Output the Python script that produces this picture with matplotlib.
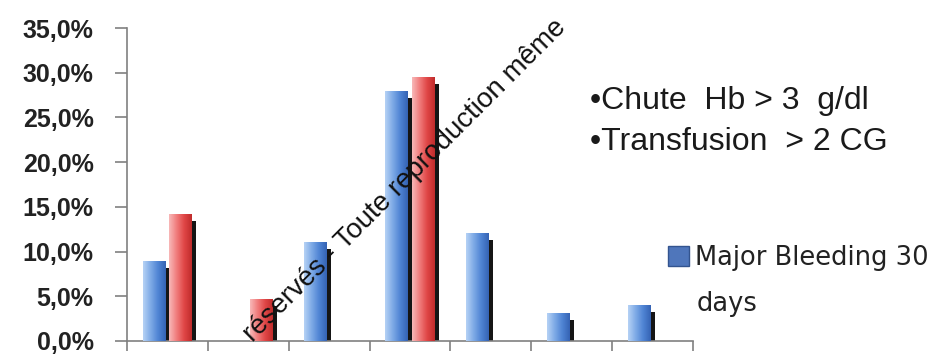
import numpy as np
import matplotlib
matplotlib.use("Agg")
import matplotlib.pyplot as plt
from matplotlib.patches import Patch
from matplotlib.ticker import FuncFormatter
from matplotlib.colors import LinearSegmentedColormap

# ---- data ----
categories = ["1", "2", "3", "4", "5", "6", "7"]
blue_values = [0.090, 0.0, 0.111, 0.280, 0.121, 0.031, 0.040]
red_values = [0.142, 0.047, 0.0, 0.295, 0.0, 0.0, 0.0]
yticks = [0.0, 0.05, 0.10, 0.15, 0.20, 0.25, 0.30, 0.35]
legend_label = "Major Bleeding 30"
legend_label2 = "days"
note_lines = ["•Chute  Hb > 3  g/dl", "•Transfusion  > 2 CG"]
watermark = "réservés - Toute reproduction même"

plt.rcParams['font.family'] = ['Liberation Sans', 'DejaVu Sans']

fig = plt.figure(figsize=(9.4, 3.55), dpi=100)
ax = fig.add_axes([127/940, 1-341/355, (693-127)/940, (341-28)/355])

x = np.arange(len(categories))
w = 0.28
off = 0.165

blue_cmap = LinearSegmentedColormap.from_list("b", ["#b6d2f5", "#7eaae6", "#4f84d4", "#3563b4"])
red_cmap = LinearSegmentedColormap.from_list("r", ["#f8b8b8", "#f07c7c", "#e04646", "#c02c2c"])
grad = np.linspace(0, 1, 64).reshape(1, -1)

def draw(vals, pos, cmap):
    # shadow
    ax.bar(pos + 0.05, [max(v - 0.008, 0) for v in vals], width=w, color="#151515", zorder=2)
    bars = ax.bar(pos, vals, width=w, color="none", zorder=3)
    for b in bars:
        if b.get_height() <= 0:
            continue
        x0, y0 = b.get_x(), b.get_y()
        im = ax.imshow(grad, cmap=cmap, aspect="auto", zorder=3,
                       extent=[x0, x0 + b.get_width(), y0, y0 + b.get_height()],
                       interpolation="bicubic")
        im.set_clip_path(b)
    return bars

draw(blue_values, x - off, blue_cmap)
draw(red_values, x + off, red_cmap)

ax.set_xlim(-0.5, len(categories) - 0.5)
ax.set_ylim(0, 0.35)
ax.set_yticks(yticks)
ax.yaxis.set_major_formatter(FuncFormatter(lambda v, p: f"{v*100:.1f}%".replace(".", ",")))
ax.tick_params(axis="y", labelsize=18, length=9, width=1.2, color="#808080", pad=15, labelcolor="#222222")
ax.set_xticks(np.arange(len(categories) + 1) - 0.5)
ax.set_xticklabels([])
ax.tick_params(axis="x", length=7, width=1.2, color="#808080", direction="out")
for s in ["top", "right"]:
    ax.spines[s].set_visible(False)
for s in ["left", "bottom"]:
    ax.spines[s].set_color("#808080")
    ax.spines[s].set_linewidth(1.2)
for lab in ax.get_yticklabels():
    lab.set_fontweight("bold")

# notes
fig.text(590/940, 1-101/355, note_lines[0], fontsize=23, va="center", ha="left", color="#1a1a1a")
fig.text(590/940, 1-142/355, note_lines[1], fontsize=23, va="center", ha="left", color="#1a1a1a")

# legend
leg = fig.legend(handles=[Patch(facecolor="#4f76bb", edgecolor="#33548f")], labels=[legend_label],
                 loc="center left", bbox_to_anchor=(668/940, 1-258/355), frameon=False,
                 handlelength=0.8, handleheight=0.8, handletextpad=0.25,
                 borderpad=0, borderaxespad=0, prop={"family": ["DejaVu Sans"], "size": 18.5})
for t in leg.get_texts():
    t.set_color("#222222")
fig.text(697/940, 1-304/355, legend_label2, fontsize=18.5, va="center", ha="left",
         family=["DejaVu Sans"], color="#222222")

# watermark text
fig.text(405/940, 1-181/355, watermark, fontsize=20, rotation=45, ha="center", va="center",
         rotation_mode="anchor", color="#111111", zorder=10)

fig.savefig("out.png", dpi=100, facecolor="white")
